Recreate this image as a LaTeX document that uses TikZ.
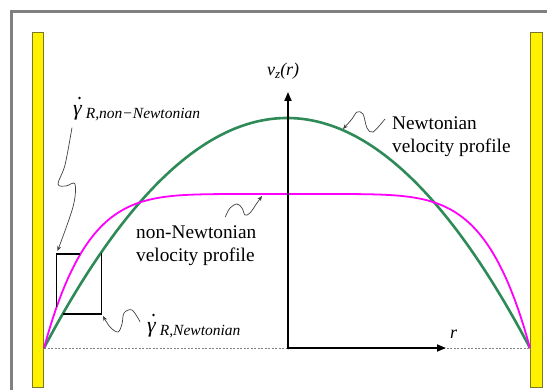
\documentclass[tikz,border=0pt]{standalone}
\usepackage{fontspec}
\setmainfont{Liberation Serif}
\usetikzlibrary{arrows.meta}

\definecolor{newtgreen}{RGB}{46,139,87}
\definecolor{powmagenta}{RGB}{255,0,255}
\definecolor{walledge}{RGB}{120,120,40}
\definecolor{framegray}{RGB}{128,128,128}

\tikzset{
  wall/.style={fill=yellow, draw=walledge, line width=1pt},
  leader/.style={draw=black!75, line width=0.7pt, -{Stealth[length=5pt,width=4pt]}},
  lbl/.style={inner sep=0pt, font=\rmfamily\fontsize{19.3}{22.5}\selectfont, align=left},
  axis/.style={line width=1.8pt, -{Triangle[length=9pt,width=7pt]}},
  rate dot/.style={fill=black, radius=1.3pt},
}
\newcommand{\grate}{{\rmfamily\fontsize{22}{22}\selectfont\itshape γ}}
\newcommand{\gsub}[1]{\raisebox{-3pt}{\rmfamily\fontsize{15.5}{16}\selectfont\itshape #1}}

\begin{document}
\begin{tikzpicture}[x=1pt,y=-1pt]
\def\xL{44}
\def\xR{530}
\def\xO{287}
\def\yO{348}
\def\half{243}
\def\hN{230}
\def\hP{154}
\def\mP{5.8}

\useasboundingbox (0,0) rectangle (547,390);
\clip (0,0) rectangle (547,390);

\draw[framegray, line width=3pt] (11.5,11.5) rectangle (600,450);

% pipe walls
\draw[wall] (32.5,32.5) rectangle (43.5,388);
\draw[wall] (530.5,32.5) rectangle (542.5,388);

\coordinate (O) at (288,\yO);
\draw[gray, dash pattern=on 2pt off 1.5pt, line width=0.5pt] (\xL,\yO) -- (\xR,\yO);

% velocity profiles
\draw[newtgreen, line width=2.6pt] plot[domain=\xL:\xR, samples=121]
  (\x, {\yO-\hN*(1-((\x-\xO)/\half)^2)});
\draw[powmagenta, line width=1.8pt] plot[domain=\xL:\xR, samples=161]
  (\x, {\yO-\hP*(1-(abs((\x-\xO)/\half)+0.0001)^\mP)});

% axes
\draw[axis] (O) -- (288,92) coordinate (vtop);
\draw[axis] (O) -- (446,\yO) coordinate (rtip);
\fill (O) circle (1.5pt);

% slope box at the wall
\draw[line width=1.2pt] (80.4,254) -- (56.5,254) -- (56.5,307.4);
\draw[line width=1.2pt] (62.7,314) -- (101.5,314) -- (101.5,253);

% labels
\node[lbl, anchor=base west, font=\rmfamily\fontsize{18}{18}\selectfont\itshape] (vz) at (267,76)
  {v\raisebox{-2.5pt}{\fontsize{13}{13}\selectfont z}(r)};
\node[lbl, anchor=base west, font=\rmfamily\fontsize{18}{18}\selectfont\itshape] (rlab) at (450,339) {r};
\node[lbl, anchor=north west] (newt) at (392,117) {Newtonian\\velocity profile};
\node[lbl, anchor=north west] (nonnewt) at (136,226) {non-Newtonian\\velocity profile};
\node[lbl, anchor=base west] (gnn) at (73,116) {\grate\kern4pt\gsub{R,non−Newtonian}};
\node[lbl, anchor=base west] (gn) at (147,333) {\grate\kern4pt\gsub{R,Newtonian}};
\fill[rate dot] ([shift={(6.5,-18)}]gnn.base west) circle;
\fill[rate dot] ([shift={(6.5,-18)}]gn.base west) circle;

\coordinate (tipGnn) at (57.5,251);
\coordinate (tipGn) at (103,316);
\coordinate (tipNewt) at (343,129);
\coordinate (tipPow) at (262,196);

% wavy leaders
\draw[leader] plot[smooth, tension=0.55] coordinates
  {([shift={(-1,6)}]gnn.south west) (65,165) (58,184) (66,186) (75,184) (73,207) (tipGnn)};
\draw[leader] plot[smooth, tension=0.55] coordinates
  {([shift={(-7,-9)}]gn.west) (132,310) (124,313) (122,324) (118,332) (110,327) (tipGn)};
\draw[leader] plot[smooth, tension=0.55] coordinates
  {([shift={(-7,2)}]newt.north west) (373,132) (367,128) (363,114) (357,112) (352,119) (tipNewt)};
\draw[leader] plot[smooth, tension=0.55] coordinates
  {([shift={(29,-9)}]nonnewt.north) (230,208) (237,204) (242,208) (245,215) (250,213) (257,203) (tipPow)};
\end{tikzpicture}
\end{document}
